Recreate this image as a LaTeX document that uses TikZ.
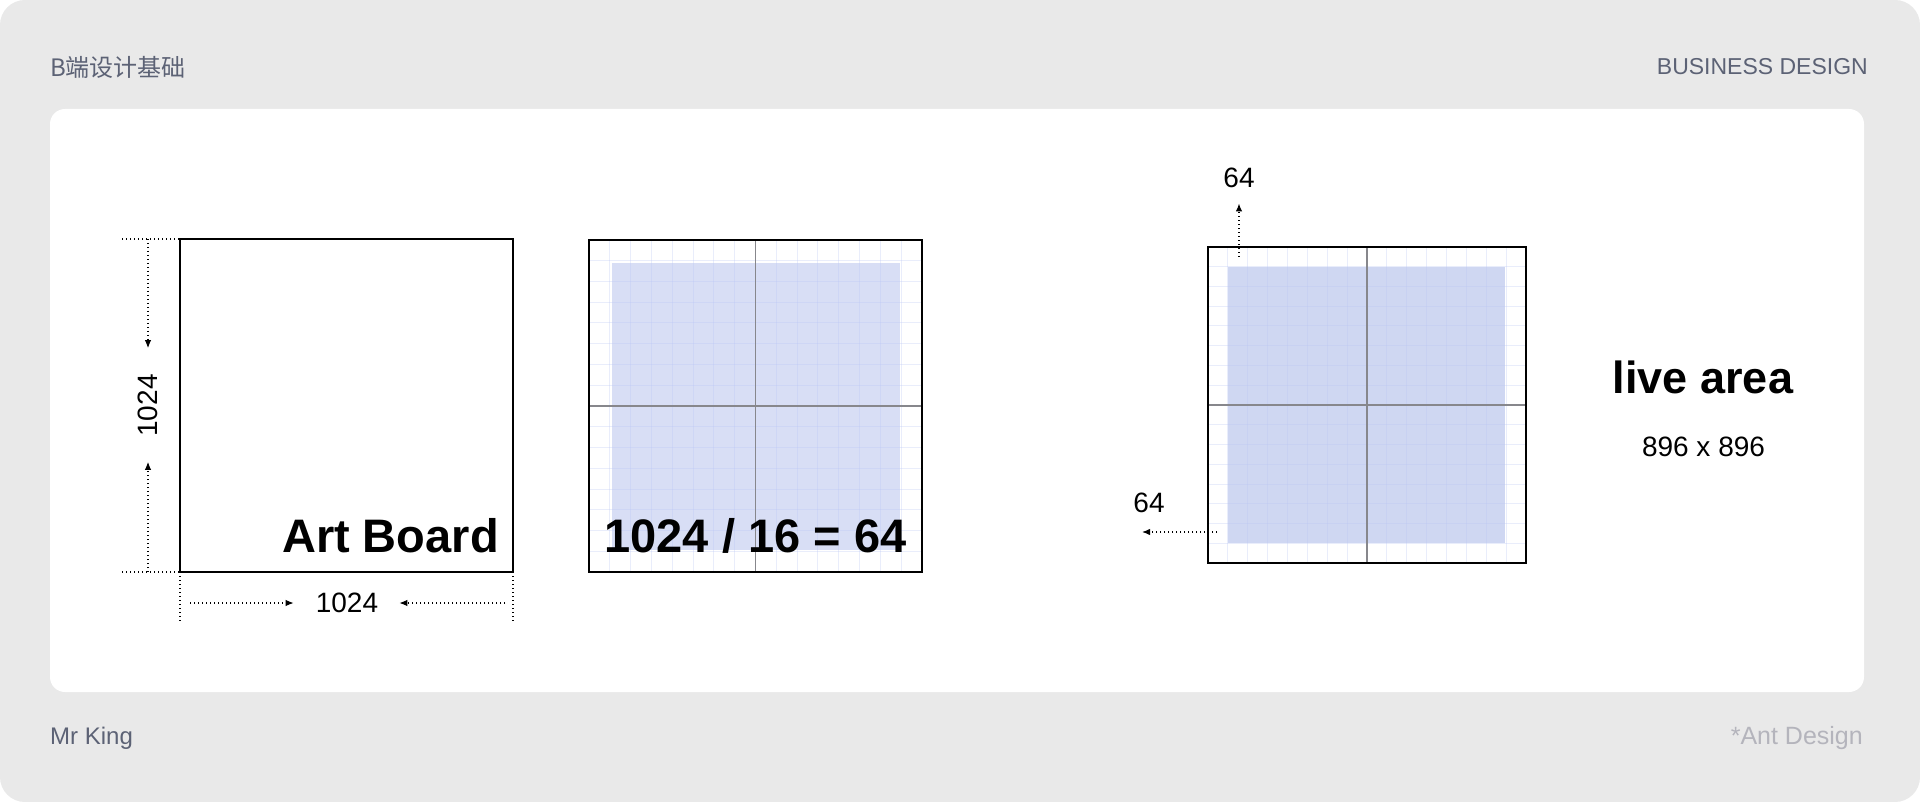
\documentclass[tikz,border=0pt]{standalone}
\usepackage{fontspec}
\setmainfont{Liberation Sans}
\newfontfamily\cjk{Noto Sans CJK SC}
\usetikzlibrary{arrows.meta,calc}

\definecolor{pagegray}{RGB}{233,233,233}
\definecolor{headgray}{RGB}{92,98,117}
\definecolor{notegray}{RGB}{180,180,188}
\definecolor{gridfill}{RGB}{216,222,245}
\definecolor{livefill}{RGB}{207,215,242}
\definecolor{gridline}{RGB}{185,196,245}
\definecolor{crossgray}{RGB}{135,135,140}

\tikzset{
  board/.style={inner sep=0pt, outer sep=0pt},
  frame/.style={draw=black, line width=2.6pt},
  gridln/.style={gridline, line width=1pt, opacity=0.3},
  crossln/.style={crossgray, line width=1.3pt},
  dim/.style={line width=1.2pt, dash pattern=on 1.2pt off 2.8pt},
  dimarrow/.style={dim, -{Latex[length=8pt,width=6.5pt]}},
  dimtext/.style={inner sep=0pt, font=\fontsize{28}{28}\selectfont},
  bigtext/.style={inner sep=0pt, font=\fontsize{47}{47}\selectfont\bfseries},
  headtext/.style={inner sep=0pt, text=headgray, font=\fontsize{23}{23}\selectfont},
}

\begin{document}
\begin{tikzpicture}[x=1pt,y=-1pt]
    \useasboundingbox (0,0) rectangle (1920,802);
    \fill[white] (0,0) rectangle (1920,802);
    \fill[pagegray, rounded corners=25pt] (0,0) rectangle (1920,802);
    \fill[white, rounded corners=15pt] (50,109) rectangle (1864,692);

    % header and footer
    \node[headtext, anchor=base west] (title)  at (50,77)  {\cjk\fontsize{24}{24}\selectfont B端设计基础};
    \node[headtext, anchor=base east] (brand)  at (1868,75) {\fontsize{23}{23}\selectfont BUSINESS DESIGN};
    \node[headtext, anchor=base west] (author) at (50,744) {\fontsize{24}{24}\selectfont Mr King};
    \node[headtext, anchor=base east, text=notegray] (source) at (1863,744) {\fontsize{25}{25}\selectfont *Ant Design};

    % the three boards
    \node[board, minimum width=333pt, minimum height=333pt] (art)  at (346.5,405.5) {};
    \node[board, minimum width=333pt, minimum height=332pt] (grid) at (755.5,406) {};
    \node[board, minimum width=318pt, minimum height=316pt] (live) at (1367,405) {};

    \fill[gridfill] ($(grid.north west)+(23,23)$) rectangle ($(grid.south east)+(-22,-22)$);
    \fill[livefill] ($(live.north west)+(20,20)$) rectangle ($(live.south east)+(-21,-20)$);

    \foreach \b in {grid,live}{
        \foreach \k in {1,...,15}{
            \draw[gridln] ($(\b.north west)!\k/16!(\b.north east)$) -- ($(\b.south west)!\k/16!(\b.south east)$);
            \draw[gridln] ($(\b.north west)!\k/16!(\b.south west)$) -- ($(\b.north east)!\k/16!(\b.south east)$);
        }
        \draw[crossln] (\b.north) -- (\b.south);
        \draw[crossln] (\b.west) -- (\b.east);
    }

    \draw[frame] (art.north west) rectangle (art.south east);
    \draw[frame] (grid.north west) rectangle (grid.south east);
    \draw[frame] (live.north west) rectangle (live.south east);

    \node[bigtext, anchor=base east] (artname) at (499,552) {Art Board};
    \node[bigtext, anchor=base] (division) at (755.5,552) {1024 / 16 = 64};
    \node[bigtext, anchor=base, font=\fontsize{45}{45}\selectfont\bfseries] (livename) at (1703,393) {live area};
    \node[dimtext, anchor=base] (livesize) at (1703.5,456) {896 x 896};

    % art board dimensions
    \node[dimtext, rotate=90] (artH) at (148,405.5) {1024};
    \node[dimtext] (artW) at (347,603) {1024};

    \coordinate (hTopA) at (122,239);
    \coordinate (hTopB) at (148,239);
    \coordinate (hBotA) at (122,572);
    \coordinate (hBotB) at (148,572);
    \coordinate (wLeftA) at (180,622);
    \coordinate (wLeftB) at (190,603);
    \coordinate (wRightA) at (513,622);
    \coordinate (wRightB) at (505,603);

    \draw[dim] (hTopA) -- (art.north west);
    \draw[dim] (hBotA) -- (art.south west);
    \draw[dim] (art.south west) -- (wLeftA);
    \draw[dim] (art.south east) -- (wRightA);

    \draw[dimarrow, shorten >=26pt] (hTopB) -- (artH);
    \draw[dimarrow, shorten >=25pt] (hBotB) -- (artH);
    \draw[dimarrow, shorten >=22pt] (wLeftB) -- (artW);
    \draw[dimarrow, shorten >=21pt] (wRightB) -- (artW);

    % live area margins
    \node[dimtext, anchor=base] (marginT) at (1239,188) {64};
    \node[dimtext, anchor=base] (marginL) at (1149,512) {64};

    \coordinate (mTopA) at (1239,257);
    \coordinate (mLeftA) at (1217,532);
    \coordinate (mLeftB) at (1142,532);

    \draw[dimarrow, shorten >=15pt] (mTopA) -- (marginT);
    \draw[dimarrow] (mLeftA) -- (mLeftB);
\end{tikzpicture}
\end{document}
